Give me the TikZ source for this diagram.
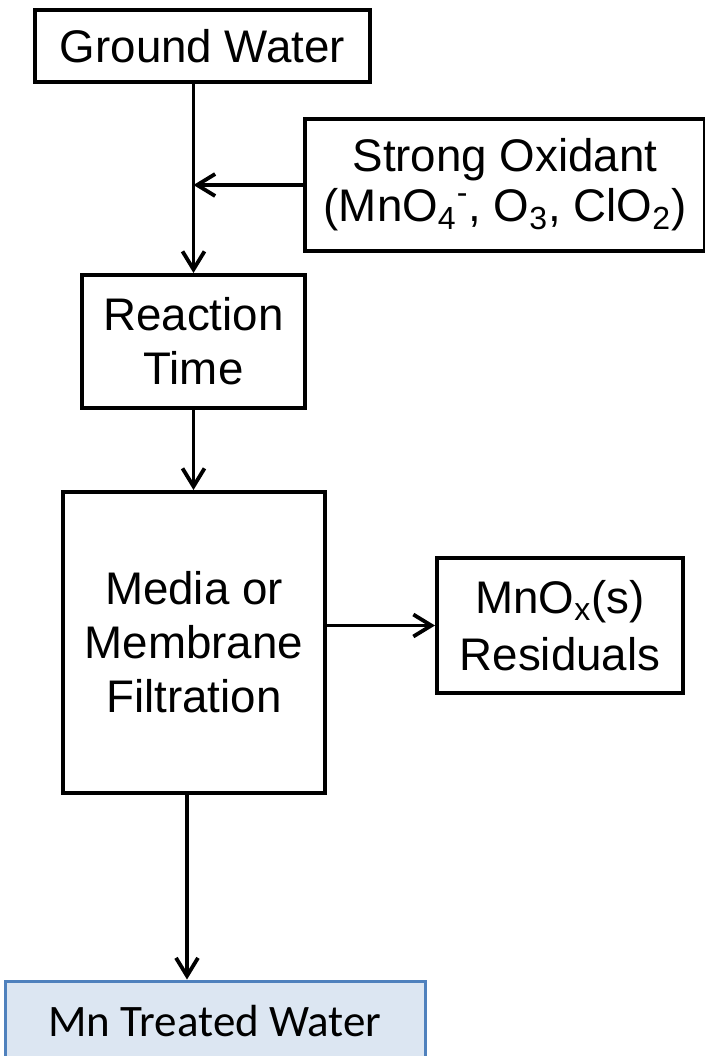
\documentclass[tikz,border=0pt]{standalone}
\usepackage{fontspec}
\setmainfont{Liberation Sans}
\newfontfamily\calibrifont{Carlito}
\usetikzlibrary{arrows.meta,positioning}
\definecolor{outblue}{RGB}{79,129,189}
\definecolor{outfill}{RGB}{220,230,242}

\begin{document}
\begin{tikzpicture}[x=0.5pt,y=-0.5pt,>={Straight Barb[length=9pt,width=11pt]},
  stepbox/.style={draw,line width=2pt,align=center,inner sep=0pt,font=\fontsize{22.85}{27}\selectfont},
  flow/.style={->,line width=1.9pt}]
  \useasboundingbox (0,0) rectangle (705,1056);
  \node[stepbox,minimum width=167.5pt,minimum height=36pt] (ground) at (202.5,46) {Ground Water};
  \node[stepbox,minimum width=200pt,minimum height=66pt,font=\fontsize{22.85}{25}\selectfont] (oxid) at (505,185)
    {Strong Oxidant\\(MnO\textsubscript{4}\textsuperscript{-}, O\textsubscript{3}, ClO\textsubscript{2})};
  \node[stepbox,minimum width=111.5pt,minimum height=66.5pt] (reaction) at (193.5,341.5) {Reaction\\Time};
  \node[stepbox,minimum width=131pt,minimum height=150.5pt] (media) at (194,642.5) {Media or\\Membrane\\Filtration};
  \node[stepbox,minimum width=123pt,minimum height=67.5pt,font=\fontsize{22.85}{28.5}\selectfont] (resid) at (560,625.5)
    {MnO\textsubscript{x}(s)\\Residuals};
  \node[draw=outblue,fill=outfill,line width=1.5pt,inner sep=0pt,minimum width=210pt,minimum height=40pt,
    font=\calibrifont\fontsize{22.5}{27}\selectfont] (treated) at (215,1021) {Mn Treated Water};
  \coordinate (join) at (reaction.north |- oxid.west);
  \draw[flow] (ground.south -| reaction.north) -- (reaction.north);
  \draw[flow] (oxid.west) -- (join);
  \draw[flow] (reaction.south) -- (reaction.south |- media.north);
  \draw[flow] (media.east |- resid.west) -- (resid.west);
  \draw[flow] ([xshift=-3.5pt]media.south) -- ([xshift=-3.5pt]media.south |- treated.north);
\end{tikzpicture}
\end{document}
